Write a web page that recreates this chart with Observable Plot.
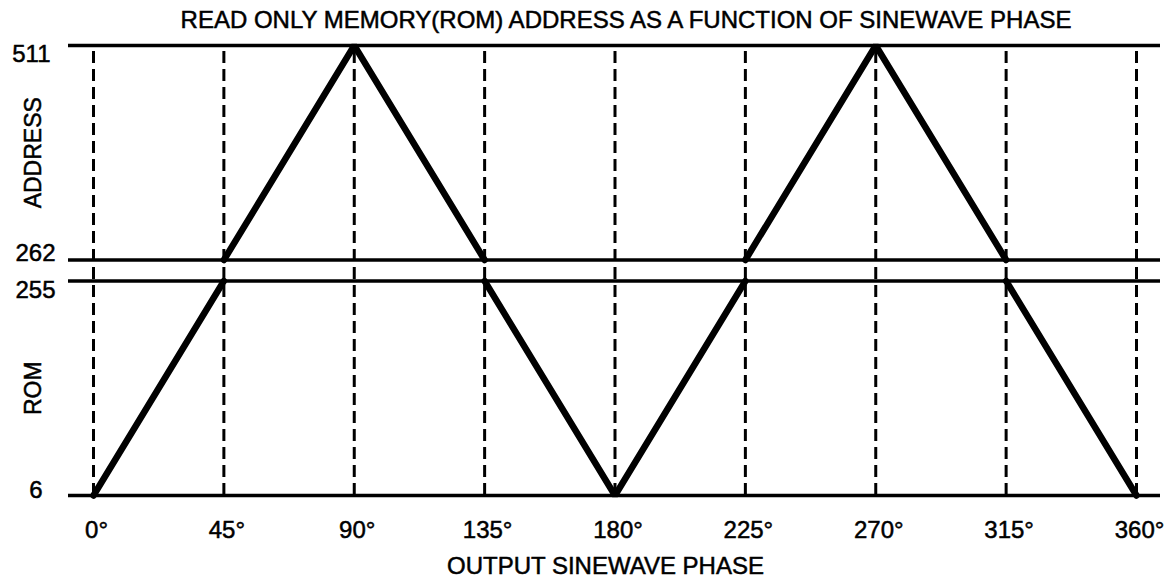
<!DOCTYPE html>
<html>
<head>
<meta charset="utf-8">
<script src="https://cdn.jsdelivr.net/npm/d3@7"></script>
<script src="https://cdn.jsdelivr.net/npm/@observablehq/plot@0.6"></script>
<style>
  html, body { margin: 0; padding: 0; background: #fff; }
  #title { height: 36px; line-height: 36px; padding-top: 2px; box-sizing: border-box;
           font-family: "Liberation Sans", Arial, sans-serif; font-size: 24px; color: #000;
           -webkit-text-stroke: 0.5px #000;
           text-align: center; width: 1166px; padding-left: 86px; white-space: nowrap; }
  #chart svg text { stroke: #000; stroke-width: 0.5px; }
</style>
</head>
<body>
<div id="title">READ ONLY MEMORY(ROM) ADDRESS AS A FUNCTION OF SINEWAVE PHASE</div>
<div id="chart"></div>
<script>
// Data
const phaseTicks = [0, 45, 90, 135, 180, 225, 270, 315, 360];
const addressTicks = [511, 262, 255, 6];
const phase   = [0, 45,  45, 90, 135,  135, 180, 225,  225, 270, 315,  315, 360];
const address = [6, 255, 262, 511, 262, 255, 6, 255,   262, 511, 262,  255, 6];
const segment = [1, 1,   2, 2, 2,      3, 3, 3,        4, 4, 4,        5, 5];
const xLabel = "OUTPUT SINEWAVE PHASE";
const yLabels = ["ADDRESS", "ROM"];

const path = phase.map((p, i) => ({phase: p, address: address[i], segment: segment[i]}));
const yLabelRows = [
  {label: yLabels[0], y: d3.mean([addressTicks[0], addressTicks[1]])},
  {label: yLabels[1], y: d3.mean([addressTicks[2], addressTicks[3]])}
];

// the drawing opens a wider gap between the ROM half (<=255) and the ADDRESS half (>=262)
const halfSplit = d3.mean([addressTicks[1], addressTicks[2]]);
const gapStretch = 17.4;
const yTransform = v => v > halfSplit ? v + gapStretch : v;

const font = "Liberation Sans, Arial, sans-serif";

const chart = Plot.plot({
  width: 1166,
  height: 543,
  marginLeft: 68,
  marginRight: 6,
  marginTop: 9,
  marginBottom: 84,
  style: {fontFamily: font, fontSize: "24px", color: "#000", background: "#fff"},
  x: {domain: [0, 360], range: [93, 1136]},
  y: {transform: yTransform, range: [459, 9]},
  marks: [
    Plot.ruleX(phaseTicks, {x: d => d, y1: 6, y2: 511, stroke: "#000", strokeWidth: 3, strokeDasharray: "12,6"}),
    Plot.ruleY(addressTicks, {y: d => d, stroke: "#000", strokeWidth: 3.5}),
    Plot.line(path, {x: "phase", y: "address", z: "segment", stroke: "#000", strokeWidth: 6.5, strokeLinejoin: "miter"}),
    Plot.axisX(phaseTicks, {tickSize: 0, tickPadding: 25, dx: 3, tickFormat: d => d + "°", label: null, fontSize: 24}),
    Plot.axisY([addressTicks[0]], {tickSize: 0, tickPadding: 18, dy: 9, label: null, fontSize: 24}),
    Plot.axisY([addressTicks[1]], {tickSize: 0, tickPadding: 13, dy: -7, label: null, fontSize: 24}),
    Plot.axisY([addressTicks[2]], {tickSize: 0, tickPadding: 13, dy: 9, label: null, fontSize: 24}),
    Plot.axisY([addressTicks[3]], {tickSize: 0, tickPadding: 26, dy: -5, label: null, fontSize: 24}),
    Plot.text(yLabelRows, {y: "y", text: "label", frameAnchor: "left", textAnchor: "middle", lineAnchor: "middle", dx: -35, rotate: -90, fontSize: 23, fill: "#000"}),
    Plot.text([xLabel], {text: d => d, frameAnchor: "bottom", dy: 78, dx: -9, fontSize: 24, fill: "#000"})
  ]
});
document.getElementById("chart").appendChild(chart);
</script>
</body>
</html>
